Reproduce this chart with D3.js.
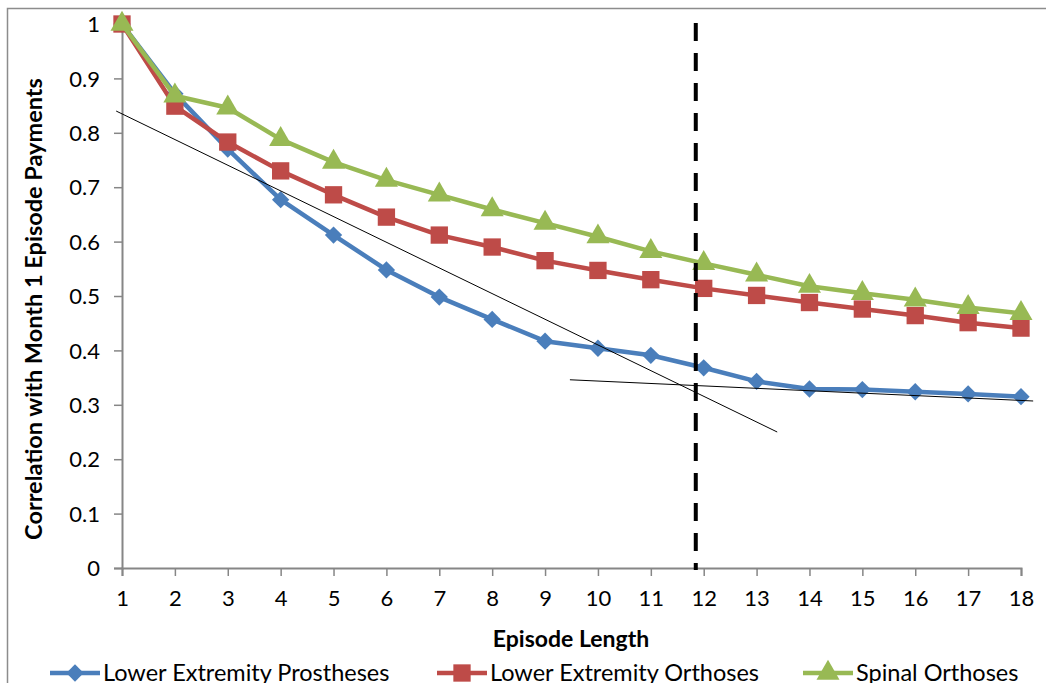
<!DOCTYPE html>
<html>
<head>
<meta charset="utf-8">
<script src="https://cdn.jsdelivr.net/npm/d3@7"></script>
<style>
  body { margin: 0; background: #fff; }
  svg { display: block; font-family: Lato, "Open Sans", sans-serif; }
</style>
</head>
<body>
<svg id="graf"></svg>
<script>
let episodes = [1, 2, 3, 4, 5, 6, 7, 8, 9, 10, 11, 12, 13, 14, 15, 16, 17, 18]
let yTicks = [0, 0.1, 0.2, 0.3, 0.4, 0.5, 0.6, 0.7, 0.8, 0.9, 1]
let seriesNames = ['Lower Extremity Prostheses', 'Lower Extremity Orthoses', 'Spinal Orthoses']
let prostheses = [1, 0.872, 0.77, 0.677, 0.612, 0.548, 0.498, 0.457, 0.417, 0.404, 0.391, 0.368, 0.343, 0.329, 0.328, 0.324, 0.32, 0.315]
let orthoses = [1, 0.849, 0.783, 0.73, 0.686, 0.645, 0.612, 0.59, 0.565, 0.547, 0.53, 0.514, 0.501, 0.488, 0.476, 0.464, 0.451, 0.441]
let spinal = [1, 0.868, 0.846, 0.788, 0.746, 0.713, 0.686, 0.659, 0.634, 0.609, 0.582, 0.56, 0.539, 0.518, 0.505, 0.493, 0.479, 0.468]
// hand drawn trend lines and the cutoff marker
let trendSteep = [[0.89, 0.840], [13.39, 0.25]]
let trendFlat = [[9.47, 0.346], [18.23, 0.307]]
let cutoff = 11.85

function graficar() {
  let w = 1046
  let h = 683
  let svg = d3.select('#graf').attr('width', w).attr('height', h)

  let x = d3.scaleLinear().domain([1, 18]).range([122, 1021])
  let y = d3.scaleLinear().domain([0, 1]).range([568, 24])
  let gris = '#868686'

  // outer frame (cropped chart area)
  svg.append('path')
    .attr('d', 'M7.5,' + h + 'V8.5H' + w)
    .attr('fill', 'none')
    .attr('stroke', '#8c8c8c')
    .attr('stroke-width', 1.5)

  let yAxis = svg.append('g')
    .attr('transform', 'translate(122,0)')
    .call(d3.axisLeft(y).tickValues(yTicks).tickSize(8).tickPadding(14).tickFormat(d => d3.format('')(+d.toFixed(1))))
  let xAxis = svg.append('g')
    .attr('transform', 'translate(0,568)')
    .call(d3.axisBottom(x).tickValues(episodes).tickSize(8).tickPadding(14))
  ;[xAxis, yAxis].forEach(g => {
    g.select('.domain').attr('stroke', gris).attr('stroke-width', 2)
    g.selectAll('.tick line').attr('stroke', gris).attr('stroke-width', 1.5)
    g.selectAll('.tick text').attr('fill', '#000').style('font-size', '22px').style('font-family', 'Lato, sans-serif')
  })
  yAxis.selectAll('.tick text').attr('dy', '0.35em')

  let diamond = { draw: (ctx, size) => {
    let r = Math.sqrt(size / 2)
    ctx.moveTo(0, -r); ctx.lineTo(r, 0); ctx.lineTo(0, r); ctx.lineTo(-r, 0); ctx.closePath()
  } }
  let series = [
    { name: seriesNames[0], values: prostheses, color: '#4A7EBB', shape: diamond, size: 150 },
    { name: seriesNames[1], values: orthoses, color: '#BE4B48', shape: d3.symbolSquare, size: 300 },
    { name: seriesNames[2], values: spinal, color: '#98B954', shape: d3.symbolTriangle, size: 230 }
  ]
  let line = d3.line().x((d, i) => x(episodes[i])).y(d => y(d))

  series.forEach(s => {
    svg.append('path')
      .datum(s.values)
      .attr('d', line)
      .attr('fill', 'none')
      .attr('stroke', s.color)
      .attr('stroke-width', 4.5)
      .attr('stroke-linejoin', 'round')
    svg.selectAll(null)
      .data(s.values)
      .enter()
      .append('path')
      .attr('d', d3.symbol().type(s.shape).size(s.size))
      .attr('transform', (d, i) => 'translate(' + x(episodes[i]) + ',' + y(d) + ')')
      .attr('fill', s.color)
  })

  // trend lines
  let tline = d3.line().x(d => x(d[0])).y(d => y(d[1]))
  ;[trendSteep, trendFlat].forEach(t => {
    svg.append('path').attr('d', tline(t)).attr('stroke', '#000').attr('stroke-width', 1).attr('fill', 'none')
  })

  // cutoff dashed line
  svg.append('line')
    .attr('x1', x(cutoff)).attr('x2', x(cutoff))
    .attr('y1', y(1) - 1).attr('y2', y(0) + 2)
    .attr('stroke', '#000')
    .attr('stroke-width', 4)
    .attr('stroke-dasharray', '18,12')

  // axis titles
  svg.append('text')
    .text('Episode Length')
    .attr('x', 571).attr('y', 647)
    .attr('text-anchor', 'middle')
    .style('font-size', '23px').style('font-weight', 'bold')
  svg.append('text')
    .text('Correlation with Month 1 Episode Payments')
    .attr('transform', 'translate(42,309) rotate(-90)')
    .attr('text-anchor', 'middle')
    .style('font-size', '23.5px').style('font-weight', 'bold')

  // legend
  let legX = [50, 437, 803]
  let leg = svg.selectAll('.leg').data(series).enter().append('g')
    .attr('class', 'leg')
    .attr('transform', (d, i) => 'translate(' + legX[i] + ',673)')
  leg.append('line').attr('x1', 0).attr('x2', 50).attr('stroke', d => d.color).attr('stroke-width', 4.5)
  leg.append('path')
    .attr('d', d => d3.symbol().type(d.shape).size(d.size)())
    .attr('transform', 'translate(25,0)')
    .attr('fill', d => d.color)
  leg.append('text')
    .text(d => d.name)
    .attr('x', 53).attr('y', 8)
    .style('font-size', '23.5px')
}

graficar()
</script>
</body>
</html>
